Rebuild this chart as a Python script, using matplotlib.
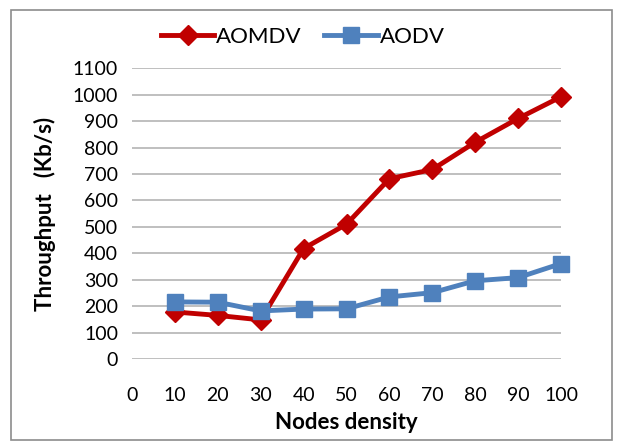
import numpy as np
import matplotlib.pyplot as plt
from matplotlib.patches import Rectangle

# nodes density (category 0 has no data)
nodes = [10, 20, 30, 40, 50, 60, 70, 80, 90, 100]
aomdv = [178, 165, 148, 418, 510, 682, 717, 820, 910, 992]
aodv = [216, 215, 182, 189, 190, 235, 251, 296, 308, 361]
xticks = [0, 10, 20, 30, 40, 50, 60, 70, 80, 90, 100]
yticks = list(range(0, 1101, 100))

plt.rcParams['font.family'] = ['Lato', 'DejaVu Sans']

fig = plt.figure(figsize=(6.18, 4.46), dpi=100)
ax = fig.add_axes([0.2136, 0.195, 0.6942, 0.652])

# outer chart border
fig.patches.append(Rectangle((0.018, 0.013), 0.972, 0.965, transform=fig.transFigure,
                             fill=False, edgecolor='#8c8c8c', lw=1.2))

ax.plot(nodes, aomdv, color='#C00000', lw=3.5, marker='D', ms=10, label='AOMDV',
        clip_on=False, zorder=3)
ax.plot(nodes, aodv, color='#4F81BD', lw=3.5, marker='s', ms=11, label='AODV',
        clip_on=False, zorder=3)

ax.set_xlim(0, 100)
ax.set_ylim(0, 1100)
ax.set_xticks(xticks)
ax.set_yticks(yticks)
ax.tick_params(length=0, labelsize=14, pad=10)
ax.tick_params(axis='x', pad=20)
ax.grid(axis='y', color='#BFBFBF', lw=1.4)
ax.set_axisbelow(True)
for s in ax.spines.values():
    s.set_visible(False)

ax.set_xlabel('Nodes density', fontsize=16, fontweight='bold', labelpad=6)
ax.set_ylabel('Throughput   (Kb/s)', fontsize=16, fontweight='bold', labelpad=12)

leg = fig.legend(loc='center', bbox_to_anchor=(0.49, 0.917), ncol=2, frameon=False,
                 fontsize=16, handlelength=2.4, columnspacing=1.0, handletextpad=0.1)

fig.savefig('out.png', dpi=100)
